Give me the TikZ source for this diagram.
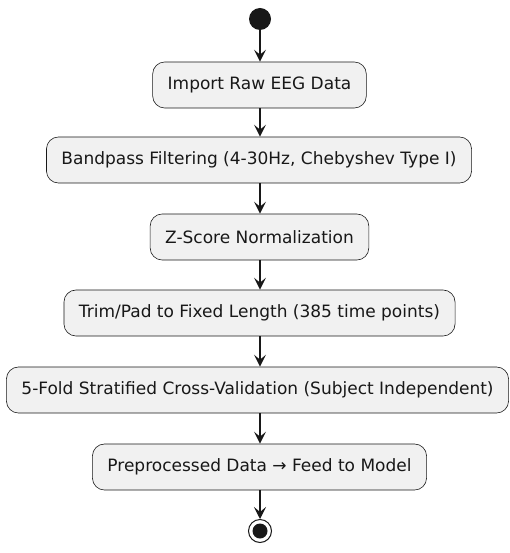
\documentclass[tikz,border=0pt]{standalone}
\usepackage{fontspec}
\setmainfont{DejaVu Sans}
\usetikzlibrary{arrows.meta}
\definecolor{actfill}{HTML}{F1F1F1}
\definecolor{ink}{HTML}{181818}
\begin{document}
\begin{tikzpicture}[x=1pt,y=-1pt,
  action/.style={draw=ink,line width=0.6pt,fill=actfill,rounded corners=12pt,
    minimum height=46pt,inner xsep=15pt,font=\fontsize{17}{20}\selectfont,text=ink},
  flow/.style={draw=ink,line width=1.1pt,-{Stealth[length=12pt,width=12pt,inset=5pt]}}]
\useasboundingbox (0,0) rectangle (509,553);
\node[circle,fill=ink,minimum size=22pt,inner sep=0pt] (start) at (260,19) {};
\node[action] (a1) at (259.5,85) {Import Raw EEG Data};
\node[action] (a2) at (259,160) {Bandpass Filtering (4-30Hz, Chebyshev Type I)};
\node[action] (a3) at (259.5,237) {Z-Score Normalization};
\node[action] (a4) at (259.5,313) {Trim/Pad to Fixed Length (385 time points)};
\node[action] (a5) at (257.5,390) {5-Fold Stratified Cross-Validation (Subject Independent)};
\node[action] (a6) at (259.5,467) {Preprocessed Data → Feed to Model};
\node[circle,draw=ink,line width=1pt,fill=white,minimum size=23pt,inner sep=0pt] (stop) at (260,531) {};
\node[circle,fill=ink,minimum size=15pt,inner sep=0pt] at (stop) {};
\draw[flow] (start) -- (start |- a1.north);
\draw[flow] (start |- a1.south) -- (start |- a2.north);
\draw[flow] (start |- a2.south) -- (start |- a3.north);
\draw[flow] (start |- a3.south) -- (start |- a4.north);
\draw[flow] (start |- a4.south) -- (start |- a5.north);
\draw[flow] (start |- a5.south) -- (start |- a6.north);
\draw[flow] (start |- a6.south) -- (stop);
\end{tikzpicture}
\end{document}
